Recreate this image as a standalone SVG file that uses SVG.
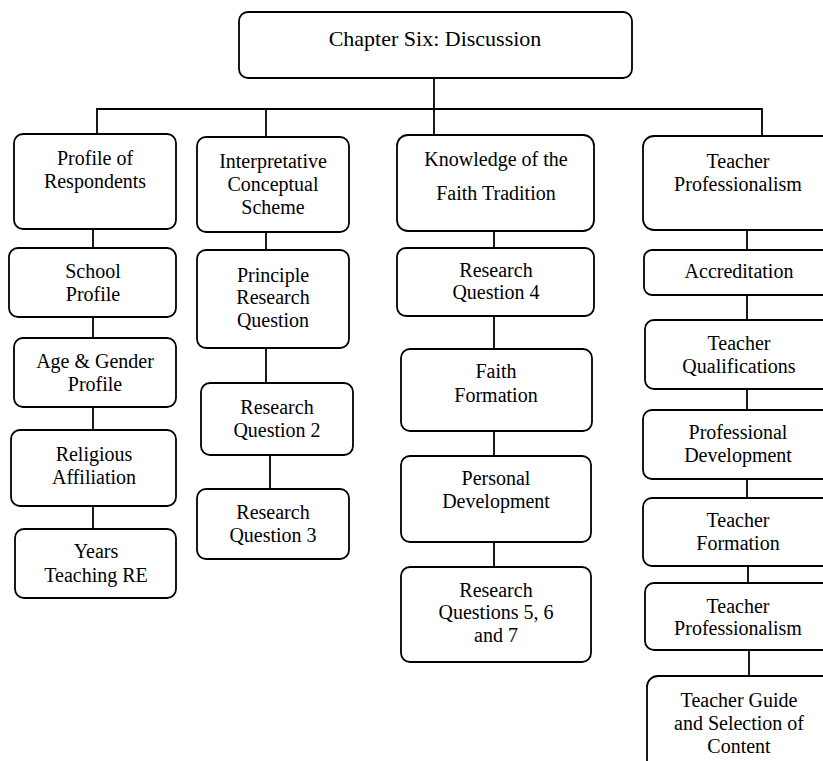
<svg xmlns="http://www.w3.org/2000/svg" width="823" height="761" viewBox="0 0 823 761">
  <style>
    .box { fill: #ffffff; stroke: #000000; stroke-width: 1.8; }
    .link { fill: none; stroke: #000000; stroke-width: 1.8; }
    text { font-family: "Liberation Serif", "Times New Roman", serif; font-size: 20px; fill: #000000; text-anchor: middle; }
    .title { font-size: 22px; }
  </style>
  <rect x="0" y="0" width="823" height="761" fill="#ffffff"/>

  <!-- connectors -->
  <g id="connectors">
    <path class="link" d="M434 78 V135"/>
    <path class="link" d="M97 133 V109 H762 V136"/>
    <path class="link" d="M266 109 V137"/>
    <!-- column 1 -->
    <path class="link" d="M93 229 V248"/>
    <path class="link" d="M93 317 V338"/>
    <path class="link" d="M93 407 V430"/>
    <path class="link" d="M93 506 V529"/>
    <!-- column 2 -->
    <path class="link" d="M266 232 V250"/>
    <path class="link" d="M266 348 V383"/>
    <path class="link" d="M270 455 V489"/>
    <!-- column 3 -->
    <path class="link" d="M494 231 V248"/>
    <path class="link" d="M494 316 V349"/>
    <path class="link" d="M494 431 V456"/>
    <path class="link" d="M494 542 V567"/>
    <!-- column 4 -->
    <path class="link" d="M747 230 V250"/>
    <path class="link" d="M747 295 V320"/>
    <path class="link" d="M747 389 V410"/>
    <path class="link" d="M747 479 V498"/>
    <path class="link" d="M748 566 V583"/>
    <path class="link" d="M749 650 V676"/>
  </g>

  <!-- root -->
  <g id="chapter-six">
    <rect class="box" x="239" y="12" width="393" height="66" rx="9"/>
    <text class="title" x="435" y="46">Chapter Six: Discussion</text>
  </g>

  <!-- column 1 -->
  <g id="profile-of-respondents">
    <rect class="box" x="14" y="134" width="162" height="95" rx="9"/>
    <text x="95" y="165">Profile of</text>
    <text x="95" y="188">Respondents</text>
  </g>
  <g id="school-profile">
    <rect class="box" x="9" y="248" width="167" height="69" rx="9"/>
    <text x="93" y="278">School</text>
    <text x="93" y="301">Profile</text>
  </g>
  <g id="age-gender-profile">
    <rect class="box" x="14" y="338" width="162" height="69" rx="9"/>
    <text x="95" y="368">Age &amp; Gender</text>
    <text x="95" y="391">Profile</text>
  </g>
  <g id="religious-affiliation">
    <rect class="box" x="11" y="430" width="165" height="76" rx="9"/>
    <text x="94" y="461">Religious</text>
    <text x="94" y="484">Affiliation</text>
  </g>
  <g id="years-teaching-re">
    <rect class="box" x="15" y="529" width="161" height="69" rx="9"/>
    <text x="96" y="558">Years</text>
    <text x="96" y="582">Teaching RE</text>
  </g>

  <!-- column 2 -->
  <g id="interpretative-scheme">
    <rect class="box" x="197" y="137" width="152" height="95" rx="9"/>
    <text x="273" y="168">Interpretative</text>
    <text x="273" y="191">Conceptual</text>
    <text x="273" y="214">Scheme</text>
  </g>
  <g id="principle-research-question">
    <rect class="box" x="197" y="250" width="152" height="98" rx="9"/>
    <text x="273" y="282">Principle</text>
    <text x="273" y="304">Research</text>
    <text x="273" y="327">Question</text>
  </g>
  <g id="research-question-2">
    <rect class="box" x="201" y="383" width="152" height="72" rx="9"/>
    <text x="277" y="414">Research</text>
    <text x="277" y="437">Question 2</text>
  </g>
  <g id="research-question-3">
    <rect class="box" x="197" y="489" width="152" height="70" rx="9"/>
    <text x="273" y="519">Research</text>
    <text x="273" y="542">Question 3</text>
  </g>

  <!-- column 3 -->
  <g id="knowledge-faith-tradition">
    <rect class="box" x="397" y="135" width="197" height="96" rx="11"/>
    <text x="496" y="166">Knowledge of the</text>
    <text x="496" y="200">Faith Tradition</text>
  </g>
  <g id="research-question-4">
    <rect class="box" x="397" y="248" width="197" height="68" rx="9"/>
    <text x="496" y="277">Research</text>
    <text x="496" y="299">Question 4</text>
  </g>
  <g id="faith-formation">
    <rect class="box" x="401" y="349" width="191" height="82" rx="9"/>
    <text x="496" y="378">Faith</text>
    <text x="496" y="402">Formation</text>
  </g>
  <g id="personal-development">
    <rect class="box" x="401" y="456" width="190" height="86" rx="9"/>
    <text x="496" y="485">Personal</text>
    <text x="496" y="508">Development</text>
  </g>
  <g id="research-questions-5-6-7">
    <rect class="box" x="401" y="567" width="190" height="95" rx="9"/>
    <text x="496" y="597">Research</text>
    <text x="496" y="619">Questions 5, 6</text>
    <text x="496" y="642">and 7</text>
  </g>

  <!-- column 4 -->
  <g id="teacher-professionalism">
    <rect class="box" x="643" y="136" width="192" height="94" rx="11"/>
    <text x="738" y="168">Teacher</text>
    <text x="738" y="191">Professionalism</text>
  </g>
  <g id="accreditation">
    <rect class="box" x="644" y="250" width="191" height="45" rx="8"/>
    <text x="739" y="278">Accreditation</text>
  </g>
  <g id="teacher-qualifications">
    <rect class="box" x="645" y="320" width="190" height="69" rx="9"/>
    <text x="739" y="350">Teacher</text>
    <text x="739" y="373">Qualifications</text>
  </g>
  <g id="professional-development">
    <rect class="box" x="643" y="410" width="192" height="69" rx="9"/>
    <text x="738" y="439">Professional</text>
    <text x="738" y="462">Development</text>
  </g>
  <g id="teacher-formation">
    <rect class="box" x="643" y="498" width="192" height="68" rx="9"/>
    <text x="738" y="527">Teacher</text>
    <text x="738" y="550">Formation</text>
  </g>
  <g id="teacher-professionalism-2">
    <rect class="box" x="645" y="583" width="190" height="67" rx="9"/>
    <text x="738" y="613">Teacher</text>
    <text x="738" y="635">Professionalism</text>
  </g>
  <g id="teacher-guide-content">
    <rect class="box" x="647" y="676" width="188" height="100" rx="11"/>
    <text x="739" y="707">Teacher Guide</text>
    <text x="739" y="730">and Selection of</text>
    <text x="739" y="753">Content</text>
  </g>
</svg>
